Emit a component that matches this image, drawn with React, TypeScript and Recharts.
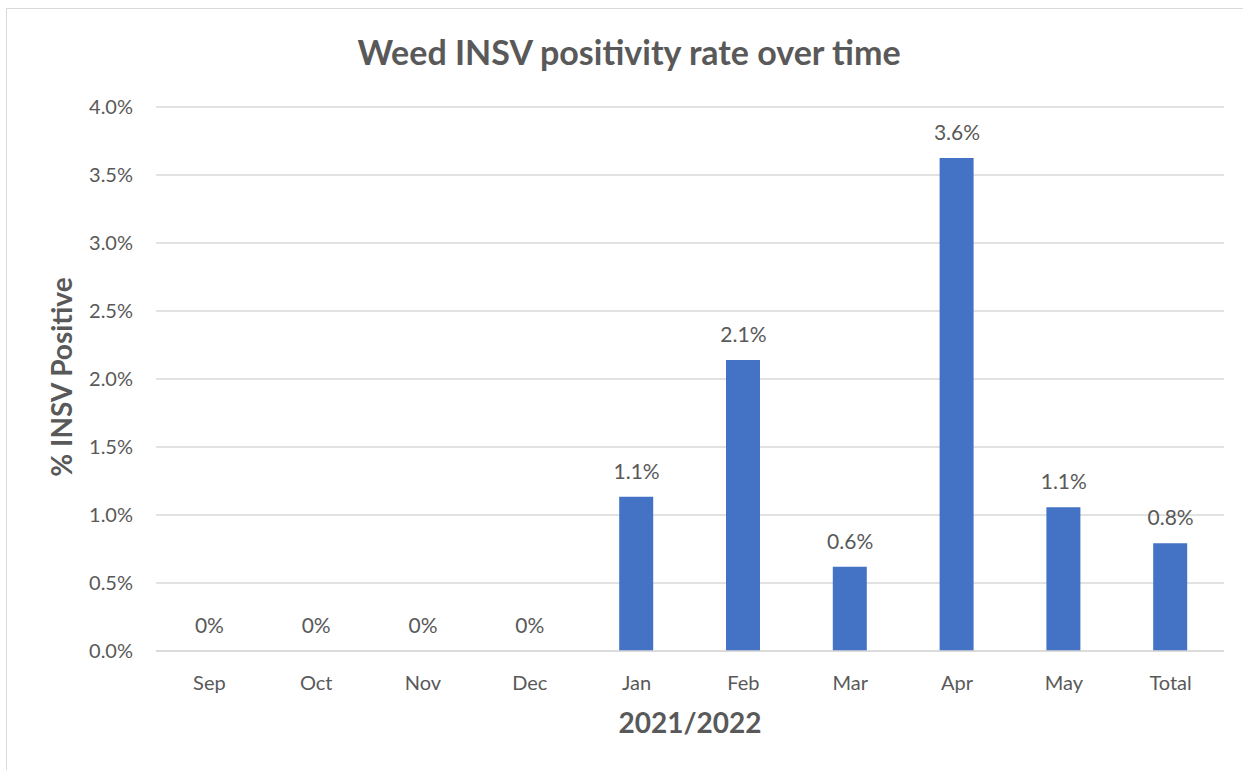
import React from 'react'
import { ComposedChart, Bar, Line, XAxis, YAxis, CartesianGrid, LabelList } from 'recharts'

const months = ['Sep', 'Oct', 'Nov', 'Dec', 'Jan', 'Feb', 'Mar', 'Apr', 'May', 'Total']
const positivity = [0, 0, 0, 0, 1.135, 2.139, 0.62, 3.625, 1.057, 0.793]
const yTicks = [0, 0.5, 1, 1.5, 2, 2.5, 3, 3.5, 4]

const rows = months.map((month, i) => ({ month, rate: positivity[i] }))

const ink = '#595959'
const font = 'Lato, "Open Sans", sans-serif'

const fmtLabel = (v: number) => (v === 0 ? '0%' : `${v.toFixed(1)}%`)

export default function App() {
  return (
    <div
      style={{
        position: 'fixed',
        left: 0,
        top: 0,
        width: 1243,
        height: 770,
        overflow: 'hidden',
        background: '#fff',
        fontFamily: font,
      }}
    >
      <div
        style={{
          position: 'absolute',
          left: 6,
          top: 8,
          width: 1300,
          height: 820,
          border: '1px solid #d9d9d9',
        }}
      />
      <div
        style={{
          position: 'absolute',
          left: 629,
          top: 51,
          transform: 'translate(-50%, -50%)',
          whiteSpace: 'nowrap',
          fontSize: 34,
          fontWeight: 700,
          color: ink,
        }}
      >
        Weed INSV positivity rate over time
      </div>
      <div
        style={{
          position: 'absolute',
          left: 61,
          top: 377,
          transform: 'translate(-50%, -50%) rotate(-90deg)',
          whiteSpace: 'nowrap',
          fontSize: 28,
          fontWeight: 700,
          color: ink,
        }}
      >
        % INSV Positive
      </div>
      <div
        style={{
          position: 'absolute',
          left: 690,
          top: 722,
          transform: 'translate(-50%, -50%)',
          whiteSpace: 'nowrap',
          fontSize: 28,
          fontWeight: 700,
          color: ink,
        }}
      >
        2021/2022
      </div>
      <div style={{ position: 'absolute', left: 0, top: 0 }}>
        <ComposedChart
          width={1243}
          height={770}
          data={rows}
          margin={{ top: 107, right: 19, bottom: 79, left: 0 }}
          barSize={34}
        >
          <CartesianGrid vertical={false} stroke="#d9d9d9" strokeWidth={1.5} />
          <XAxis
            dataKey="month"
            axisLine={{ stroke: '#d9d9d9', strokeWidth: 1.5 }}
            tickLine={false}
            tickSize={0}
            tickMargin={25}
            height={40}
            interval={0}
            tick={{ fill: ink, fontSize: 20, fontFamily: font }}
          />
          <YAxis
            width={156}
            domain={[0, 4]}
            ticks={yTicks}
            interval={0}
            axisLine={false}
            tickLine={false}
            tickSize={0}
            tickMargin={23}
            tickFormatter={(v: number) => `${v.toFixed(1)}%`}
            tick={{ fill: ink, fontSize: 20, fontFamily: font }}
          />
          <Bar dataKey="rate" fill="#4472c4" isAnimationActive={false} />
          {/* invisible series that carries the value labels, so zero months get one too */}
          <Line
            dataKey="rate"
            stroke="none"
            dot={false}
            activeDot={false}
            isAnimationActive={false}
          >
            <LabelList
              dataKey="rate"
              position="top"
              offset={18}
              formatter={(v: number) => fmtLabel(v)}
              fill={ink}
              fontSize={21}
              fontFamily={font}
            />
          </Line>
        </ComposedChart>
      </div>
    </div>
  )
}
